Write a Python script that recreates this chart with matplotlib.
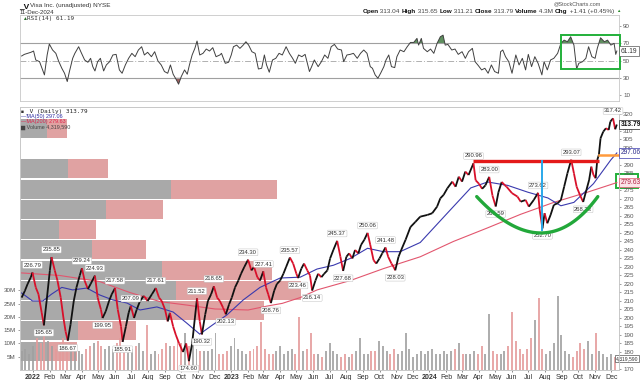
import numpy as np
import pandas as pd
import matplotlib
matplotlib.use("Agg")
import matplotlib.pyplot as plt
import matplotlib.dates as mdates
import matplotlib.transforms as mtransforms
from matplotlib.collections import LineCollection
from matplotlib.patches import Rectangle

plt.rcParams['font.family'] = ['Liberation Sans', 'DejaVu Sans']

START = pd.Timestamp('2021-12-11')

# ---------------- data ----------------
price_days = [0, 6, 11, 17, 20, 26, 31, 37, 41, 46, 52, 55, 61, 66, 72, 77, 81, 85, 90, 96,
              101, 107, 111, 116, 122, 127, 135, 140, 146, 149, 155, 161, 166, 172, 177, 183, 186, 192, 197, 201,
              207, 212, 218, 225, 232, 240, 247, 253, 258, 264, 269, 273, 279, 284, 290, 297, 303, 308, 314, 319,
              323, 328, 332, 338, 343, 349, 354, 360, 365, 371, 376, 382, 387, 393, 399, 404, 410, 417, 423, 428,
              434, 439, 445, 450, 454, 459, 465, 470, 476, 482, 487, 494, 500, 506, 509, 515, 520, 526, 531, 535,
              541, 546, 552, 557, 563, 568, 574, 581, 587, 592, 598, 603, 609, 614, 620, 625, 631, 637, 642, 648,
              653, 659, 664, 670, 675, 681, 685, 688, 694, 699, 707, 716, 725, 734, 747, 756, 765, 771, 777, 784,
              793, 799, 805, 811, 817, 823, 832, 836, 842, 848, 854, 861, 867, 873, 878, 884, 890, 893, 903, 913,
              919, 928, 934, 943, 951, 954, 959, 963, 968, 974, 980, 987, 993, 999, 1005, 1012, 1017, 1022, 1028, 1034,
              1040, 1045, 1049, 1053, 1057, 1060, 1063, 1066, 1071, 1076, 1081, 1084, 1089, 1093, 1096]
price_vals = [212, 216, 220, 224, 226.79, 218, 214, 203, 195.65, 210, 228, 235.85, 228, 222, 212, 200, 192, 186.67, 196, 210,
              218, 225, 229.24, 222, 217, 220, 224.93, 212, 205, 199.95, 204, 210, 214, 217.58, 205, 195, 185.91, 195, 203, 207.09,
              200, 205, 210, 213, 210, 214, 217.61, 212, 210, 205, 198, 203, 195, 190, 185, 180, 185, 174.60, 185, 200,
              211.52, 198, 190.32, 202, 210, 214, 218.65, 212, 210, 206, 202.13, 208, 212, 218, 222, 226, 230, 234.30, 228, 230,
              224, 222, 227.41, 218, 214, 208.76, 216, 220, 222, 226, 230, 235.57, 232, 226, 223.46, 229, 232, 228, 225, 216.14,
              222, 226, 224, 226, 228, 235, 240, 245.37, 236, 227.68, 236, 238, 235, 240, 238, 243, 246, 250.06, 243, 234,
              232, 235, 238, 241.48, 236, 232, 230, 228.03, 236, 240, 246, 253.5, 256.5, 259.6, 260.6, 261.6, 265.5, 270.4, 272.4, 276.3,
              280.2, 277.2, 283.1, 280.2, 286.1, 284.1, 290.96, 281, 279, 276, 278, 283.00, 272, 265.59, 274, 280, 278, 277.2, 273.4, 271.4,
              268.4, 269.4, 265.5, 269.4, 273.62, 263.5, 252.70, 261.6, 255.7, 260.6, 266.5, 267.5, 269.4, 277.2, 285.1, 293.07, 285.1, 277.2, 272.4, 268.23,
              275.3, 281.2, 289, 284.1, 282.2, 293, 296, 305.7, 309.6, 311.6, 310.6, 315.5, 317.42, 311, 313.79]

ma50_days = [0, 20, 39, 55, 74, 94, 120, 144, 168, 194, 218, 249, 279, 304, 328, 352, 378, 408, 439, 476,
             513, 544, 574, 605, 637, 666, 697, 734, 784, 827, 858, 895, 932, 969, 993, 1017, 1053, 1085, 1096]
ma50_vals = [214.7, 210, 210, 214, 218, 216.5, 217.6, 213.5, 210.6, 208.8, 204.7, 206.5, 203.5, 197, 190.5, 196, 201.8, 210.6, 218, 223.5,
             224, 228.8, 231, 235, 241, 239, 239, 244.4, 261.7, 276.5, 280, 278, 274, 270.6, 266, 268, 279, 293, 297.06]

ma200_days = [0, 70, 144, 199, 255, 304, 356, 417, 452, 480, 513, 544, 605, 666, 734, 795, 858, 919, 980, 1042, 1096]
ma200_vals = [226.5, 225, 221.4, 215, 209.6, 207.6, 205.3, 204.7, 207, 208.6, 212, 216.5, 222, 229, 236, 245, 253, 261, 268, 274, 279.63]

# weekly volume, millions of shares
volume_m = [7, 8, 6,
            9, 12, 10, 13, 11, 9, 8, 10, 12, 9, 8, 7, 7, 6, 8, 9, 10, 11, 9, 8, 9, 8, 10, 12, 9,
            7, 8, 9, 10, 7, 17, 6, 7, 6, 8, 10, 9, 9, 11, 10, 14, 9, 10, 8, 7, 7, 7, 8, 14, 6,
            6, 7, 9, 12, 8, 7, 6, 7, 8, 9, 18, 8, 6, 6, 7, 9, 6, 7, 8, 6, 20, 7, 8, 14, 6,
            6, 5, 7, 10, 7, 6, 5, 6, 5, 6, 7, 12, 6, 6, 7, 7, 11, 9, 7, 6, 8, 6, 7, 14, 8, 5, 6,
            7, 6, 7, 8, 6, 6, 7, 6, 7, 8, 10, 6, 6, 6, 7, 6, 9, 6, 21, 7, 6, 6, 7, 9, 22,
            11, 8, 6, 8, 12, 19, 27, 8, 6, 7, 10, 28, 13, 7, 6, 5, 7, 10, 8, 11, 6, 14, 7, 6, 5, 6, 5]

rsi_days = [0, 5, 11, 17, 22, 26, 33, 42, 47, 51,
            57, 63, 68, 74, 79, 84, 88, 94, 98, 105,
            109, 116, 122, 127, 131, 135, 140, 145, 151, 156,
            162, 168, 174, 180, 185, 191, 197, 203, 209, 215,
            221, 226, 232, 239, 245, 251, 257, 263, 269, 274,
            279, 285, 289, 294, 300, 305, 309, 314, 319, 323,
            328, 334, 340, 346, 352, 358, 365, 368, 375, 381,
            386, 390, 396, 402, 408, 413, 418, 424, 430, 436,
            442, 447, 451, 456, 462, 468, 474, 480, 487, 493,
            499, 504, 510, 516, 522, 530, 534, 539, 546, 552,
            558, 564, 570, 576, 582, 589, 593, 599, 605, 611,
            618, 624, 630, 636, 642, 646, 651, 656, 661, 667,
            671, 676, 681, 687, 691, 697, 704, 710, 716, 722,
            728, 731, 736, 740, 747, 753, 759, 765, 771, 776,
            780, 785, 792, 798, 804, 811, 817, 823, 830, 835,
            841, 847, 853, 859, 865, 871, 878, 882, 886, 891,
            897, 903, 910, 916, 922, 928, 933, 939, 945, 951,
            958, 962, 968, 974, 980, 987, 993, 999, 1005, 1011,
            1017, 1022, 1026, 1033, 1039, 1044, 1050, 1056, 1060, 1066,
            1073, 1079, 1085, 1091, 1094, 1096]
rsi_vals = [55.4, 57.3, 58.5, 59.7, 61.2, 50.8, 48.8, 33.4, 56.6, 69.3,
            62.4, 58.5, 49.6, 41.1, 35.3, 25.7, 37.3, 52.7, 58.5, 66.2,
            60.4, 50.8, 48.1, 52.7, 43, 38, 48.8, 52.7, 38, 45,
            48.8, 56.6, 57.3, 39.2, 35.3, 45, 52.7, 58.5, 54.6, 62.4,
            66.2, 56.6, 59.7, 54.6, 60.4, 49.6, 45, 37.3, 35.3, 45,
            34.2, 27.6, 22.6, 31.5, 39.2, 34.2, 45, 56.6, 64.3, 72.8,
            56.6, 58.5, 63.5, 61.2, 65.1, 54.6, 56.6, 58.5, 46.9, 48.1,
            56.6, 66.2, 68.1, 64.3, 68.1, 72, 68.1, 60.4, 58.5, 40.3,
            41.1, 56.6, 45, 36.5, 50.8, 52.7, 58.5, 56.6, 66.2, 58.5,
            52.7, 46.9, 56.6, 54.6, 57.3, 37.3, 43, 50.8, 43, 48.8,
            56.6, 52.7, 66.2, 68.9, 63.5, 62.4, 48.8, 56.6, 57.3, 58.5,
            52.7, 58.5, 62.4, 58.5, 43, 41.1, 33.4, 29.5, 35.3, 43,
            50.8, 56.6, 43, 41.9, 54.6, 62.4, 60.4, 66.2, 71.2, 71.2,
            75.9, 68.1, 75.9, 64.3, 60.4, 63.5, 58.5, 70.1, 77.8, 79.7,
            68.1, 68.9, 62.4, 63.5, 57.3, 60.4, 52.7, 60.4, 64.3, 48.8,
            44.2, 39.2, 41.1, 35.3, 45, 37.3, 35.3, 60.4, 62.4, 54.6,
            48.8, 35.3, 56.6, 45, 52.7, 39.2, 57.3, 43, 54.6, 46.9,
            33.4, 48.8, 39.2, 50.8, 52.7, 58.5, 70.1, 73.9, 72, 77.8,
            68.1, 40.3, 46.9, 48.8, 52.7, 66.2, 54.6, 52.7, 64.3, 76.6,
            72, 73.9, 68.1, 70.1, 57.3, 61.19]

# volume-by-price: 12 price zones from low 174.60 to high 317.42 (low zone first)
vbp_low, vbp_high = 174.60, 317.42
vbp_up = [27, 58, 150, 156, 142, 72, 39, 86, 151, 48, 0, 27]
vbp_down = [30, 58, 94, 125, 110, 54, 37, 57, 106, 40, 0, 20]

peak_days = [20, 41, 55, 85, 111, 135, 149, 172, 186, 201, 247, 308, 323, 332, 354, 376, 417, 445, 459, 494,
             509, 535, 581, 592, 637, 670, 688, 832, 861, 873, 951, 959, 1012, 1034, 1089]
peak_vals = [226.79, 195.65, 235.85, 186.67, 229.24, 224.93, 199.95, 217.58, 185.91, 207.09, 217.61, 174.60, 211.52,
             190.32, 218.65, 202.13, 234.30, 227.41, 208.76, 235.57, 223.46, 216.14, 245.37, 227.68, 250.06, 241.48,
             228.03, 290.96, 283.00, 265.59, 273.62, 252.70, 293.07, 268.23, 317.42]
peak_up = [1, 0, 1, 0, 1, 1, 0, 1, 0, 1, 1, 0, 1, 0, 1, 0, 1, 1, 0, 1,
           0, 0, 1, 0, 1, 1, 0, 1, 1, 0, 1, 0, 1, 0, 1]

last_close, ma50_last, ma200_last, rsi_last, vol_last = 313.79, 297.06, 279.63, 61.19, 4319590

# ---------------- figure ----------------
W, H = 640, 380
fig = plt.figure(figsize=(6.4, 3.8), dpi=100)


def rect(x0, y0, x1, y1):
    return [x0 / W, 1 - y1 / H, (x1 - x0) / W, (y1 - y0) / H]


def fx(x):
    return x / W


def fy(y):
    return 1 - y / H


def dts(days):
    return START + pd.to_timedelta(np.asarray(days), unit='D')


xmin, xmax = START - pd.Timedelta(days=3), START + pd.Timedelta(days=1100)
spine_c = '#c8c8c8'

# ---------- RSI panel ----------
ax_r = fig.add_axes(rect(20, 14.7, 619, 101))
rd = dts(rsi_days)
rv = np.array(rsi_vals)
ax_r.axhline(70, color='#a0a0a0', lw=0.8)
ax_r.axhline(30, color='#a0a0a0', lw=0.8)
ax_r.axhline(50, color='#b0b0b0', lw=0.7, ls=(0, (6, 2, 1, 2)))
ax_r.fill_between(rd, 70, rv, where=rv > 70, interpolate=True, color='#5f8f5f', lw=0)
ax_r.fill_between(rd, 30, rv, where=rv < 30, interpolate=True, color='#a06060', lw=0)
ax_r.plot(rd, rv, color='#404040', lw=0.7)
ax_r.set_xlim(xmin, xmax)
ax_r.set_ylim(3, 103.5)
ax_r.set_xticks([])
ax_r.yaxis.tick_right()
ax_r.set_yticks([10, 30, 50, 70, 90])
ax_r.tick_params(axis='y', labelsize=4.5, length=1.5, width=0.4, colors='#555555', pad=1.5)
for s in ax_r.spines.values():
    s.set_color(spine_c)
    s.set_linewidth(0.6)
ax_r.add_patch(Rectangle((mdates.date2num(START + pd.Timedelta(days=993)), 40.7),
                         108, 39.4, fill=False, ec='#22b03a', lw=1.4, clip_on=False, zorder=5))

# ---------- main panel ----------
ax_v = fig.add_axes(rect(20, 107, 619, 370))
ax = fig.add_axes(rect(20, 107, 619, 370), sharex=ax_v)
ax_v.set_zorder(0)
ax.set_zorder(1)
ax.patch.set_visible(False)
ax.set_ylim(169.4, 324.1)
ax_v.set_ylim(0, 99)
ax.set_xlim(xmin, xmax)

# volume by price (horizontal bars from left)
bt = mtransforms.blended_transform_factory(ax_v.transAxes, ax.transData)
zone = (vbp_high - vbp_low) / len(vbp_up)
axis_w = 599.0
for i, (u, d) in enumerate(zip(vbp_up, vbp_down)):
    y0 = vbp_low + i * zone + 0.35
    hh = zone - 0.7
    if u > 0:
        ax_v.add_patch(Rectangle((0, y0), u / axis_w, hh, transform=bt, fc='#a9a9a9', ec='none', zorder=1))
    if d > 0:
        ax_v.add_patch(Rectangle((u / axis_w, y0), d / axis_w, hh, transform=bt, fc='#e0a2a2', ec='none', zorder=1))

# volume bars
vd = pd.date_range(START, periods=len(volume_m), freq='7D')
pd_num = mdates.date2num(dts(price_days))
vd_num = mdates.date2num(vd)
wp = np.interp(vd_num, pd_num, price_vals)
up = np.r_[True, np.diff(wp) >= 0]
vcols = np.where(up, '#a0a0a0', '#e49a9a')
ax_v.bar(vd, volume_m, width=3.6, color=vcols, alpha=0.85, lw=0, zorder=2)
ax_v.yaxis.tick_left()
ax_v.set_yticks([5, 10, 15, 20, 25, 30])
ax_v.set_yticklabels(['5M', '10M', '15M', '20M', '25M', '30M'])
ax_v.tick_params(axis='y', labelsize=4.5, length=1.5, width=0.4, colors='#555555', pad=1.5)

# month labels
months = pd.date_range('2022-01-01', '2024-12-01', freq='MS')
ax_v.set_xticks(months)
ax_v.set_xticklabels([m.strftime('%Y') if m.month == 1 else m.strftime('%b') for m in months])
ax_v.tick_params(axis='x', labelsize=5, length=1.5, width=0.4, colors='#333333', pad=1.5)
for lab, m in zip(ax_v.get_xticklabels(), months):
    if m.month == 1:
        lab.set_fontweight('bold')
ax.tick_params(axis='x', labelbottom=False, length=0)

# moving averages
ax.plot(dts(ma200_days), ma200_vals, color='#e2566e', lw=0.8, zorder=3)
ax.plot(dts(ma50_days), ma50_vals, color='#3a3aae', lw=0.8, zorder=3)

# price (up segments black, down segments red)
pv = np.array(price_vals)
pts = np.column_stack([pd_num, pv])
segs = np.stack([pts[:-1], pts[1:]], axis=1)
scol = ['#111111' if b >= a else '#d8102a' for a, b in zip(pv[:-1], pv[1:])]
ax.add_collection(LineCollection(segs, colors=scol, linewidths=1.3, zorder=4))

# peak labels
for d, v, u in zip(peak_days, peak_vals, peak_up):
    ax.annotate(f"{v:.2f}", xy=(START + pd.Timedelta(days=d), v),
                xytext=(0, 3.5 if u else -3.5), textcoords='offset points',
                ha='center', va='bottom' if u else 'top', fontsize=4.2, color='#333333',
                bbox=dict(boxstyle='round,pad=0.15', fc='white', ec='#b8b8b8', lw=0.3), zorder=6)

# right price axis (labels hidden behind the value boxes are left blank)
ax.yaxis.tick_right()
yt = np.arange(170, 321, 5)
hidden = {175, 280, 295, 315}
ax.set_yticks(yt)
ax.set_yticklabels(['' if v in hidden else str(v) for v in yt])
ax.tick_params(axis='y', labelsize=4.5, length=1.5, width=0.4, colors='#555555', pad=1.5)
for a in (ax, ax_v):
    for s in a.spines.values():
        s.set_color(spine_c)
        s.set_linewidth(0.6)


# ---------- hand-drawn annotations ----------
def D(d):
    return mdates.date2num(START + pd.Timedelta(days=d))


ax.plot([D(832), D(1064)], [292.2, 292.2], color='#e41a1a', lw=2.4, zorder=7, solid_capstyle='butt')
ax.plot([D(958), D(958)], [292.2, 251.5], color='#2aa8ea', lw=1.4, zorder=7)
ax.plot([D(1064), D(1106)], [295.8, 295.8], color='#ff9a3c', lw=1.8, zorder=7, clip_on=False)
p0, pm, p2 = np.array([D(838), 271.4]), np.array([D(956), 250.0]), np.array([D(1061), 271.4])
pc = 2 * pm - (p0 + p2) / 2
t = np.linspace(0, 1, 60)[:, None]
arc = (1 - t) ** 2 * p0 + 2 * (1 - t) * t * pc + t ** 2 * p2
ax.plot(arc[:, 0], arc[:, 1], color='#22a83a', lw=2.4, zorder=7, solid_capstyle='round')

# right-side value boxes
lt = mtransforms.blended_transform_factory(ax.transAxes, ax.transData)
ax.text(1.003, last_close, f"{last_close:.2f}", transform=lt, fontsize=4.8, fontweight='bold', va='center',
        ha='left', color='#111111', bbox=dict(boxstyle='square,pad=0.2', fc='white', ec='#222222', lw=0.5), zorder=8)
ax.text(1.003, ma50_last, f"{ma50_last:.2f}", transform=lt, fontsize=4.8, va='center', ha='left', color='#2a2a8a',
        bbox=dict(boxstyle='square,pad=0.2', fc='white', ec='#3a3aae', lw=0.5), zorder=8)
ax.text(1.003, ma200_last, f"{ma200_last:.2f}", transform=lt, fontsize=4.8, va='center', ha='left', color='#b02040',
        bbox=dict(boxstyle='square,pad=0.2', fc='#fbe4e8', ec='#e2566e', lw=0.5), zorder=8)
vt = mtransforms.blended_transform_factory(fig.transFigure, ax_v.transData)
ax_v.text(fx(638), vol_last / 1e6, f"{vol_last:,}", transform=vt, fontsize=3.6, va='center', ha='right', color='#333333',
          bbox=dict(boxstyle='square,pad=0.15', fc='white', ec='#555555', lw=0.5), zorder=8, clip_on=False)
ax_r.text(1.003, rsi_last, f"{rsi_last:.2f}", transform=mtransforms.blended_transform_factory(ax_r.transAxes, ax_r.transData),
          fontsize=4.8, va='center', ha='left', color='#333333',
          bbox=dict(boxstyle='square,pad=0.2', fc='white', ec='#555555', lw=0.5), zorder=8)
fig.add_artist(Rectangle((fx(616), fy(188)), 22 / W, 14 / H, fill=False, ec='#22b03a', lw=1.4,
                         transform=fig.transFigure))

# ---------- header / legend texts ----------
fig.text(fx(19), fy(6.5), "_V", fontsize=6, fontweight='bold', va='center', ha='left', color='#111111')
fig.text(fx(30), fy(6), "Visa Inc. (unadjusted) NYSE", fontsize=4.6, va='center', ha='left', color='#333333')
fig.text(fx(20), fy(12), "11-Dec-2024", fontsize=4.4, va='center', ha='left', color='#333333')
fig.text(fx(601), fy(4), "@StockCharts.com", fontsize=4.0, va='center', ha='right', color='#555555')

parts = [("Open", True), (" 313.04 ", False), ("High", True), (" 315.65 ", False), ("Low", True), (" 311.21 ", False),
         ("Close", True), (" 313.79 ", False), ("Volume", True), (" 4.3M ", False), ("Chg", True),
         (" +1.41 (+0.45%) ", False), ("\u25B2", False)]
ohlc_texts = []
for s, b in parts:
    tri = (s == "\u25B2")
    tx = fig.text(0, fy(11.5), s, fontsize=3.2 if tri else 4.6, fontweight='bold' if b else 'normal',
                  va='center', ha='left',
                  color='#111111' if b else ('#2a8a2a' if tri else '#444444'))
    ohlc_texts.append(tx)
fig.canvas.draw()
r = fig.canvas.get_renderer()
widths = [tx.get_window_extent(renderer=r).width for tx in ohlc_texts]
x_cur = 620 - sum(widths)
for tx, w in zip(ohlc_texts, widths):
    tx.set_x(fx(x_cur))
    x_cur += w

fig.text(fx(22), fy(18.5), "\u25B2", fontsize=3.5, color='#2a6a2a', va='center', ha='left')
fig.text(fx(27), fy(18.5), f"RSI(14) {rsi_last:.2f}", fontsize=4.3, family='DejaVu Sans Mono', va='center', ha='left',
         color='#333333')

fig.text(fx(21), fy(111.5), "\u25A0", fontsize=3.5, color='#333333', va='center', ha='left')
fig.text(fx(26), fy(111.5), f"_V (Daily) {last_close:.2f}", fontsize=4.3, family='DejaVu Sans Mono', va='center',
         ha='left', color='#222222')
fig.text(fx(21), fy(116.5), f"\u2014MA(50) {ma50_last:.2f}", fontsize=3.9, va='center', ha='left', color='#2a2aa0')
fig.text(fx(21), fy(122), f"\u2014MA(200) {ma200_last:.2f}", fontsize=3.9, va='center', ha='left', color='#e0204a')
fig.text(fx(21), fy(127), f"\u2587 Volume {vol_last:,}", fontsize=3.9, va='center', ha='left', color='#444444')

fig.savefig("out.png", dpi=100)
